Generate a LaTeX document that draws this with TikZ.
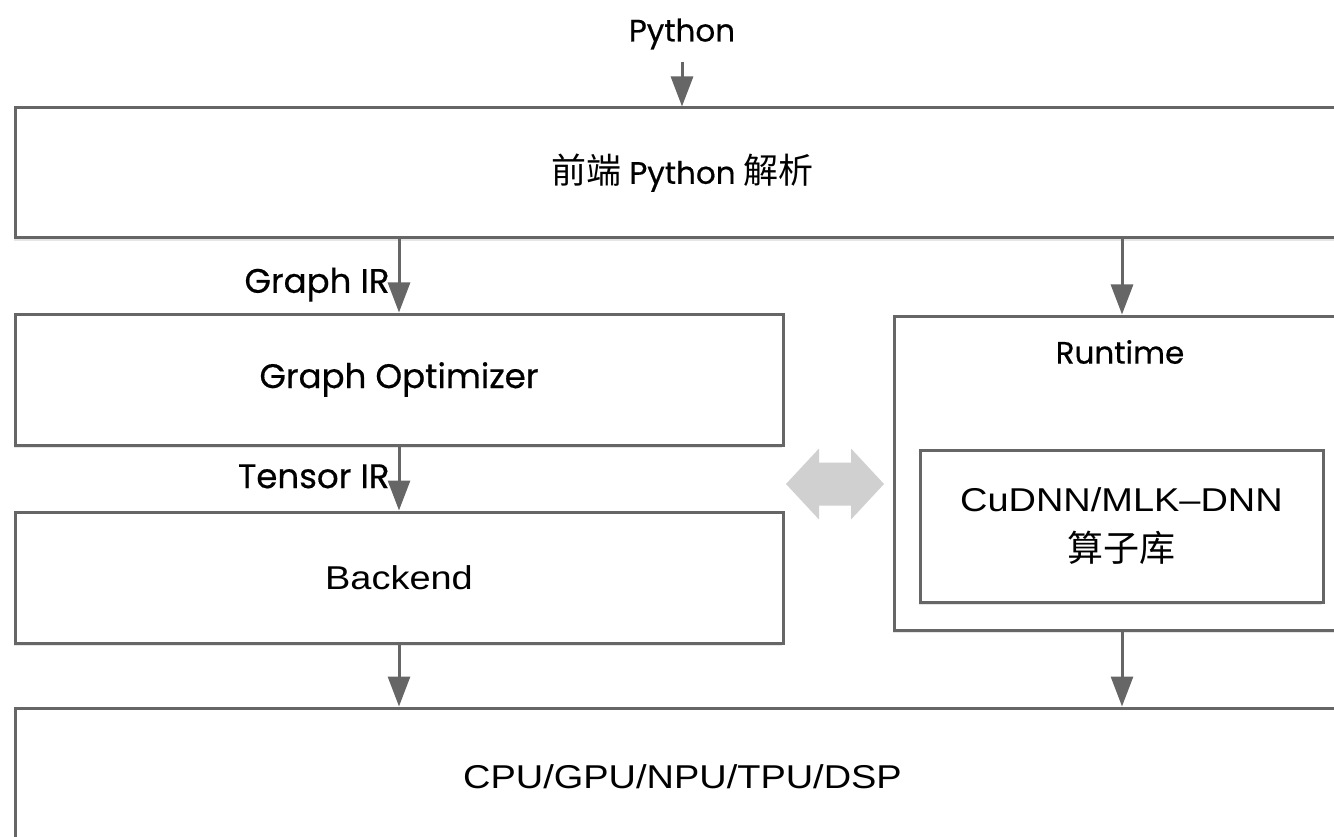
\documentclass[tikz,border=0pt]{standalone}
\usepackage{fontspec}
\setmainfont[FakeStretch=1.15]{Liberation Sans}
\newfontfamily\futura[FakeBold=0.5]{Poppins}
\newfontfamily\cjk{Noto Sans CJK SC}
\usepackage{xcolor}
\usetikzlibrary{arrows.meta,shadows}
\definecolor{edgegray}{RGB}{102,102,102}
\definecolor{syncgray}{RGB}{208,208,208}

\begin{document}
\begin{tikzpicture}[x=1pt,y=-1pt,
    box/.style={draw=edgegray, line width=3pt, fill=white, inner sep=0pt,
      drop shadow={shadow xshift=-1pt, shadow yshift=-3pt, opacity=0.2}},
    flow/.style={draw=edgegray, line width=3pt, -{Triangle[length=30pt,width=22pt]}},
    lbl/.style={font=\futura\fontsize{31}{37}\selectfont, inner sep=0pt},
    biglbl/.style={font=\futura\fontsize{34}{40}\selectfont, inner sep=0pt},
    txt/.style={font=\fontsize{33}{50}\selectfont, align=center}]
    \useasboundingbox (0,0) rectangle (1334,837);
    \clip (0,0) rectangle (1334,837);

    % Entree Python
    \node (pyin) [lbl] at (682,34) {Python};

    % Frontend
    \node (frontend) [box, lbl, minimum width=1335pt, minimum height=130pt] at (682.5,173)
        {{\cjk\fontsize{35}{40}\selectfont 前端} Python {\cjk\fontsize{35}{40}\selectfont 解析}};

    % Partie gauche : compilation
    \node (graphopt) [box, biglbl, minimum width=768pt, minimum height=131pt] at (399,379.5) {Graph Optimizer};
    \node (backend) [box, txt, minimum width=768pt, minimum height=131pt] at (399,577.5) {Backend};

    % Partie droite : runtime
    \node (runtime) [box, minimum width=456pt, minimum height=314pt] at (1122,473) {};
    \node (rttitle) [lbl] at (1120,352) {Runtime};
    \node (kernels) [box, txt, minimum width=403pt, minimum height=152pt] at (1121.5,526)
        {CuDNN/MLK--DNN\\{\cjk\fontsize{36}{50}\selectfont 算子库}};

    % Materiel
    \node (hardware) [box, txt, minimum width=1335pt, minimum height=137pt] at (682.5,776.5)
        {CPU/GPU/NPU/TPU/DSP};

    % Fleches
    \draw[flow, shorten <=12pt] (pyin.south) -- (pyin.south |- frontend.north);
    \draw[flow] (frontend.south -| graphopt.north) --
        node[biglbl, anchor=base east, pos=0.73, xshift=-8pt] {Graph IR} (graphopt.north);
    \draw[flow] (frontend.south -| runtime.north) -- (runtime.north);
    \draw[flow] (graphopt.south) --
        node[biglbl, anchor=base east, pos=0.65, xshift=-8pt] {Tensor IR} (backend.north);
    \draw[flow] (backend.south) -- (backend.south |- hardware.north);
    \draw[flow] (runtime.south) -- (runtime.south |- hardware.north);

    % Double fleche grise
    \coordinate (sync) at (835,484);
    \begin{scope}[shift={(sync)}]
        \fill[syncgray] (-49,0) -- (-16,-35.5) -- (-16,-21.5) -- (16,-21.5) -- (16,-35.5)
            -- (49,0) -- (16,35.5) -- (16,21.5) -- (-16,21.5) -- (-16,35.5) -- cycle;
    \end{scope}
\end{tikzpicture}
\end{document}
